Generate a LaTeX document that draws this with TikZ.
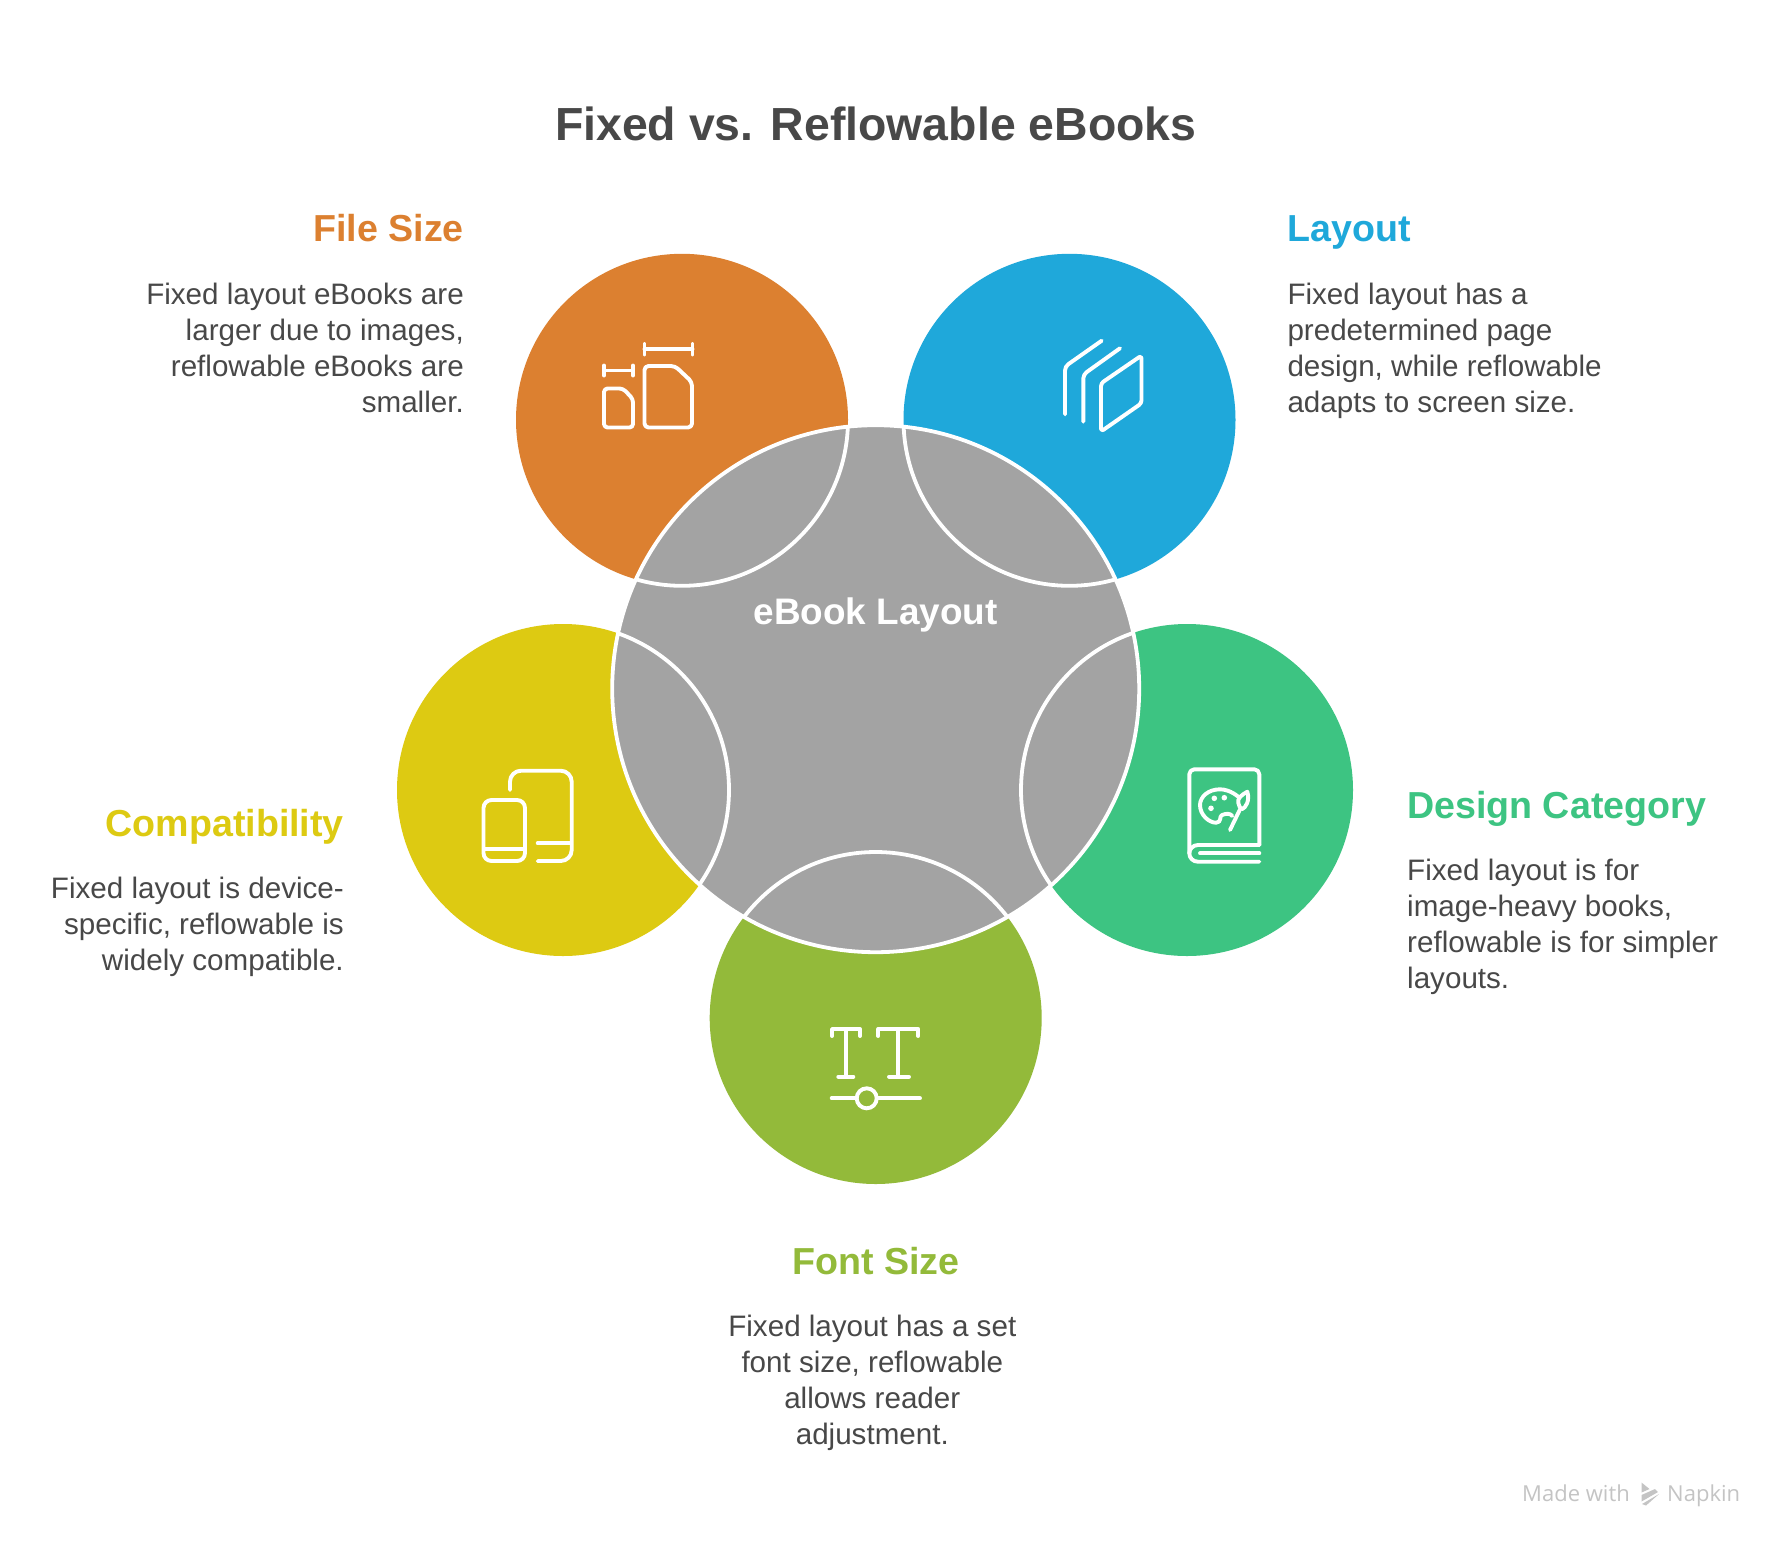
\documentclass[tikz,border=0pt]{standalone}
\usepackage{fontspec}
\setmainfont{Liberation Sans}
\newfontfamily\markfont{Open Sans}
\definecolor{cOrange}{HTML}{DC8030}
\definecolor{cBlue}{HTML}{1FA8DA}
\definecolor{cYellow}{HTML}{DDCA12}
\definecolor{cGreen}{HTML}{3DC482}
\definecolor{cOlive}{HTML}{93BA3A}
\definecolor{cGray}{HTML}{A3A3A3}
\definecolor{cText}{HTML}{484848}
\definecolor{cMark}{HTML}{C4C4C4}
\tikzset{
  headtext/.style={inner sep=0pt,font=\fontsize{37.6}{42}\selectfont\bfseries},
  bodytext/.style={inner sep=0pt,text=cText,font=\fontsize{29.6}{36}\selectfont},
  icon/.style={draw=white,line width=3.9pt,line cap=round,line join=round,fill=none},
  seam/.style={draw=white,line width=3.8pt,fill=none}
}
\begin{document}
\begin{tikzpicture}[x=1pt,y=-1pt]
\useasboundingbox (0,0) rectangle (1788,1548);
\fill[white] (0,0) rectangle (1788,1548);
% discs
\fill[cOrange] (682,419.8) circle[radius=166];
\fill[cBlue] (1069.5,419.8) circle[radius=166];
\fill[cYellow] (563,790) circle[radius=166];
\fill[cGreen] (1187,790) circle[radius=166];
\fill[cOlive] (875.7,1018) circle[radius=166];
% centre
\fill[cGray] (875.7,688.7) circle[radius=263.5];
\begin{scope}
\clip (875.7,688.7) circle[radius=263.5];
\draw[seam] (682,419.8) circle[radius=166];
\draw[seam] (1069.5,419.8) circle[radius=166];
\draw[seam] (563,790) circle[radius=166];
\draw[seam] (1187,790) circle[radius=166];
\draw[seam] (875.7,1018) circle[radius=166];
\end{scope}
\draw[seam] (875.7,688.7) circle[radius=263.5];
% title
\node[inner sep=0pt,text=cText,font=\fontsize{46.4}{56}\selectfont\bfseries] (title) at (875.7,124) {Fixed vs. Reflowable eBooks};
\node[inner sep=0pt,text=white,font=\fontsize{36.9}{42}\selectfont\bfseries] (centre) at (875.7,615) {eBook Layout};
% labels
\node[headtext,text=cOrange,anchor=base east] (fileH) at (464,241.7) {File Size};
\node[bodytext,anchor=north east,align=right] (fileB) at (464,282.4) {Fixed layout eBooks are\\larger due to images,\\reflowable eBooks are\\smaller.};
\node[headtext,text=cBlue,anchor=base west] (layoutH) at (1287.3,241.7) {Layout};
\node[bodytext,anchor=north west,align=left] (layoutB) at (1287.3,282.4) {Fixed layout has a\\predetermined page\\design, while reflowable\\adapts to screen size.};
\node[headtext,text=cYellow,anchor=base east] (compH) at (344,836) {Compatibility};
\node[bodytext,anchor=north east,align=right] (compB) at (344,877) {Fixed layout is device-\\specific, reflowable is\\widely compatible.};
\node[headtext,text=cGreen,anchor=base west] (designH) at (1407,818.7) {Design Category};
\node[bodytext,anchor=north west,align=left] (designB) at (1407,859) {Fixed layout is for\\image-heavy books,\\reflowable is for simpler\\layouts.};
\node[headtext,text=cOlive,anchor=base] (fontH) at (875.7,1274) {Font Size};
\node[bodytext,anchor=north,align=center] (fontB) at (872.3,1315) {Fixed layout has a set\\font size, reflowable\\allows reader\\adjustment.};
% file size icon
\draw[icon,rounded corners=3.5pt] (604,388.5) -- (623,388.5) -- (633,399) -- (633,427.5) -- (604,427.5) -- cycle;
\draw[icon,rounded corners=4pt] (644.5,366) -- (675,366) -- (692,382) -- (692,427.5) -- (644.5,427.5) -- cycle;
\draw[icon] (604,370.5) -- (633,370.5) (604,365.5) -- (604,375.5) (633,365.5) -- (633,375.5);
\draw[icon] (644.5,349.3) -- (692.5,349.3) (644.5,344) -- (644.5,354.5) (692.5,344) -- (692.5,354.5);
% layout icon
\draw[icon,rounded corners=4pt] (1101.7,340.7) -- (1065,366.5) -- (1065,414.3);
\draw[icon,rounded corners=4pt] (1120,348.3) -- (1083.3,374.5) -- (1083.3,421.7);
\draw[icon,rounded corners=3pt] (1141.5,355.5) -- (1141.5,403.3) -- (1101,431.5) -- (1101,383.3) -- cycle;
% compatibility icon
\draw[icon,rounded corners=8pt] (483.5,800) rectangle (525,861);
\draw[icon] (484,849.3) -- (524.5,849.3);
\draw[icon,rounded corners=11pt] (510,790) -- (510,770.7) -- (571.7,770.7) -- (571.7,861) -- (537.7,861);
\draw[icon] (537.7,843.3) -- (571,843.3);
% design icon
\draw[icon,rounded corners=5pt] (1189.3,853.3) -- (1189.3,769.3) -- (1259.3,769.3) -- (1259.3,845);
\draw[icon] (1259.3,845) -- (1198,845) .. controls (1193,845) and (1189.3,849) .. (1189.3,853.3) .. controls (1189.3,858) and (1193,861.7) .. (1198,861.7) -- (1259.3,861.7);
\draw[icon] (1200,853.3) -- (1259.3,853.3);
\draw[icon] (1238.3,796.7) .. controls (1231,791) and (1225,789.3) .. (1220,789.3) .. controls (1208,789.3) and (1200,797) .. (1200,805) .. controls (1200,815) and (1209,822.7) .. (1216,822.7) .. controls (1222,822.7) and (1219,816) .. (1222,815) .. controls (1226,813.5) and (1230,813) .. (1232.3,816);
\fill[white] (1214.3,798.3) circle[radius=2.8] (1224.3,797.7) circle[radius=2.8] (1211,808.3) circle[radius=2.8];
\draw[icon] (1230,830) -- (1240,809.3);
\draw[icon] (1247.3,791.7) .. controls (1241,795) and (1237,799) .. (1238.3,803) .. controls (1239,806) and (1240,808) .. (1241.7,809.3) .. controls (1246,808) and (1250,800) .. (1247.3,791.7) -- cycle;
% font size icon
\draw[icon] (832,1036) -- (832,1029) -- (860,1029) -- (860,1036) (845.7,1029) -- (845.7,1076.7) (838.3,1076.7) -- (853.3,1076.7);
\draw[icon] (878.3,1036) -- (878.3,1029) -- (918.3,1029) -- (918.3,1036) (898.3,1029) -- (898.3,1076.7) (889,1076.7) -- (909,1076.7);
\node[circle,draw=white,line width=3.9pt,minimum size=20pt,inner sep=0pt] (knob) at (866.7,1098.3) {};
\coordinate (sliderL) at (831.7,1098.3);
\coordinate (sliderR) at (920,1098.3);
\draw[icon] (sliderL) -- (knob) (knob) -- (sliderR);
% watermark
\node[inner sep=0pt,anchor=base west,text=cMark,font=\markfont\fontsize{22}{24}\selectfont] (madeW) at (1522,1501) {Made with};
\node[inner sep=0pt,anchor=base west,text=cMark,font=\markfont\fontsize{22}{24}\selectfont] (napkin) at (1667,1501) {Napkin};
\fill[cMark] (1641.5,1482.5) -- (1649.5,1489) -- (1641.5,1492.5) -- cycle
 (1641.5,1495) -- (1655,1489) -- (1658,1492) -- (1641.5,1501.5) -- cycle
 (1642,1504) -- (1659,1494) -- (1646,1505.5) -- cycle;
\end{tikzpicture}
\end{document}
